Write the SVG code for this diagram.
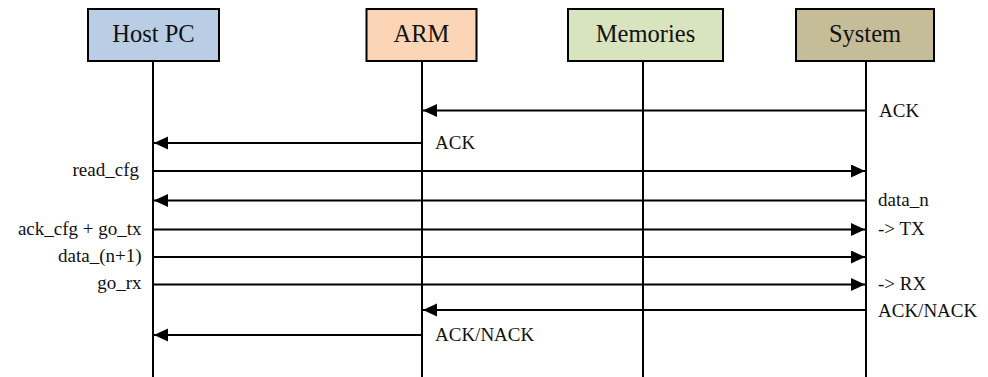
<svg xmlns="http://www.w3.org/2000/svg" width="988" height="377" viewBox="0 0 988 377">
  <style>
    .box { stroke: #000; stroke-width: 2; }
    .head { font-family: "Liberation Serif", "Times New Roman", serif; font-size: 24.5px; fill: #111; text-anchor: middle; }
    .life { stroke: #000; stroke-width: 2; fill: none; }
    .msg { stroke: #000; stroke-width: 2; fill: none; marker-end: url(#arrow); }
    .lbl { font-family: "Liberation Serif", "Times New Roman", serif; font-size: 19px; fill: #111; }
    .left { text-anchor: end; }
  </style>
  <defs>
    <marker id="arrow" markerUnits="userSpaceOnUse" markerWidth="15" markerHeight="14" refX="14" refY="6.5" orient="auto">
      <path d="M0,0 L14,6.5 L0,13 z" fill="#000"/>
    </marker>
  </defs>
  <rect width="988" height="377" fill="#fff"/>

  <!-- participants with their lifelines -->
  <g id="host-pc">
    <rect class="box" x="88" y="9" width="131" height="52" fill="#B9CDE5"/>
    <text class="head" x="153.5" y="42">Host PC</text>
    <line class="life" x1="153" y1="61" x2="153" y2="377"/>
  </g>
  <g id="arm">
    <rect class="box" x="366.5" y="9" width="110" height="52" fill="#FBD5B5"/>
    <text class="head" x="421.5" y="42">ARM</text>
    <line class="life" x1="422" y1="61" x2="422" y2="377"/>
  </g>
  <g id="memories">
    <rect class="box" x="568" y="9" width="155" height="52" fill="#D7E4BD"/>
    <text class="head" x="645.5" y="42">Memories</text>
    <line class="life" x1="643" y1="61" x2="643" y2="377"/>
  </g>
  <g id="system">
    <rect class="box" x="796" y="9" width="138" height="52" fill="#C4BD97"/>
    <text class="head" x="865" y="42">System</text>
    <line class="life" x1="866" y1="61" x2="866" y2="377"/>
  </g>

  <!-- messages -->
  <g id="connectors">
    <line class="msg" x1="866" y1="110.5" x2="423" y2="110.5"/>
    <line class="msg" x1="422" y1="143" x2="154" y2="143"/>
    <line class="msg" x1="153" y1="171" x2="865" y2="171"/>
    <line class="msg" x1="866" y1="200.5" x2="154" y2="200.5"/>
    <line class="msg" x1="153" y1="229.5" x2="865" y2="229.5"/>
    <line class="msg" x1="153" y1="257" x2="865" y2="257"/>
    <line class="msg" x1="153" y1="284.5" x2="865" y2="284.5"/>
    <line class="msg" x1="866" y1="310" x2="423" y2="310"/>
    <line class="msg" x1="422" y1="335" x2="154" y2="335"/>
  </g>

  <!-- message labels -->
  <g id="labels">
    <text class="lbl" x="879" y="116.5">ACK</text>
    <text class="lbl" x="435" y="148.5">ACK</text>
    <text class="lbl left" x="139" y="176">read_cfg</text>
    <text class="lbl" x="878" y="206">data_n</text>
    <text class="lbl left" x="141.5" y="235">ack_cfg + go_tx</text>
    <text class="lbl" x="878" y="235">-&gt; TX</text>
    <text class="lbl left" x="141.5" y="262">data_(n+1)</text>
    <text class="lbl left" x="141.5" y="289">go_rx</text>
    <text class="lbl" x="878" y="289.5">-&gt; RX</text>
    <text class="lbl" x="878" y="316.5">ACK/NACK</text>
    <text class="lbl" x="435" y="340.5">ACK/NACK</text>
  </g>
</svg>
